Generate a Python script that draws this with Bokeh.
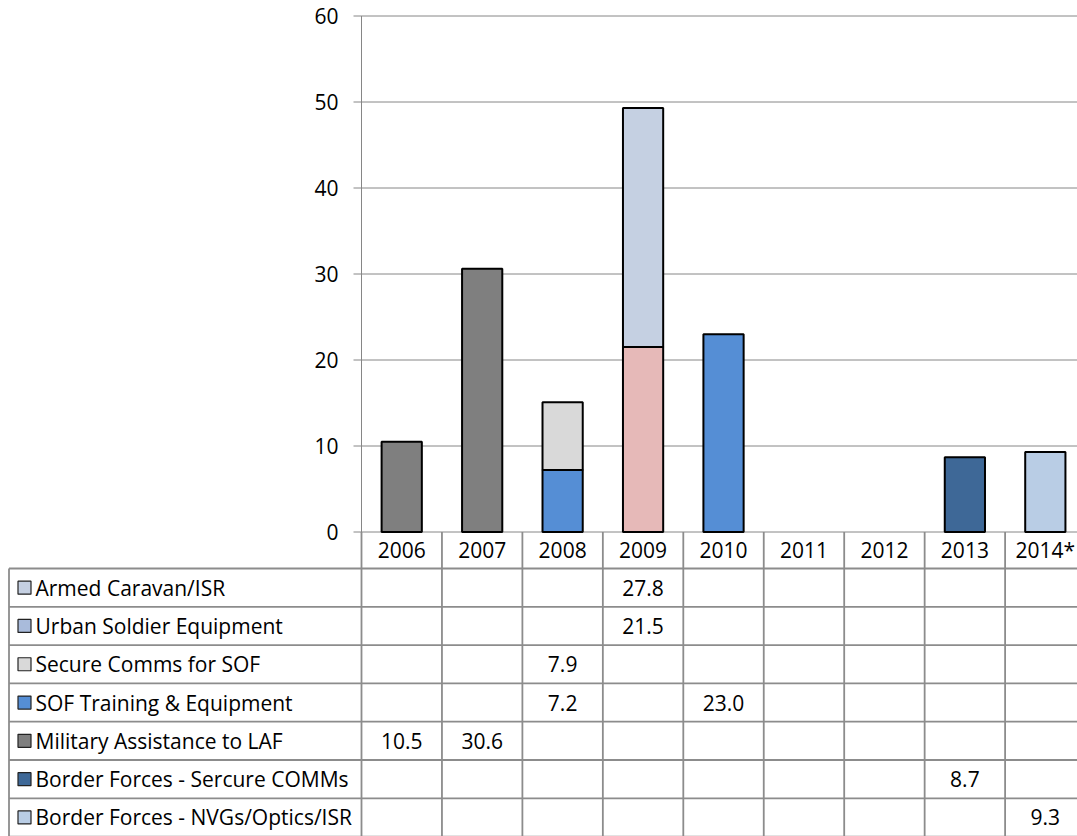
from bokeh.plotting import figure
from bokeh.models import Range1d
from bokeh.embed import file_html
from bokeh.resources import INLINE
from bokeh.core.properties import value

# ---------------- data ----------------
years = ["2006", "2007", "2008", "2009", "2010", "2011", "2012", "2013", "2014*"]
series_names = [
    "Armed Caravan/ISR",
    "Urban Soldier Equipment",
    "Secure Comms for SOF",
    "SOF Training & Equipment",
    "Military Assistance to LAF",
    "Border Forces - Sercure COMMs",
    "Border Forces - NVGs/Optics/ISR",
]
armed_caravan = [0, 0, 0, 27.8, 0, 0, 0, 0, 0]
urban_soldier = [0, 0, 0, 21.5, 0, 0, 0, 0, 0]
secure_comms = [0, 0, 7.9, 0, 0, 0, 0, 0, 0]
sof_training = [0, 0, 7.2, 0, 23.0, 0, 0, 0, 0]
military_assist = [10.5, 30.6, 0, 0, 0, 0, 0, 0, 0]
border_comms = [0, 0, 0, 0, 0, 0, 0, 8.7, 0]
border_nvg = [0, 0, 0, 0, 0, 0, 0, 0, 9.3]
series_values = [armed_caravan, urban_soldier, secure_comms, sof_training,
                 military_assist, border_comms, border_nvg]
bar_colors = ["#c5d0e2", "#e6b9b8", "#d9d9d9", "#558ed5", "#7f7f7f", "#3e6897", "#b9cde5"]
key_colors = ["#c5d0e2", "#a9bbdb", "#d9d9d9", "#558ed5", "#7f7f7f", "#3e6897", "#b9cde5"]
y_ticks = [0, 10, 20, 30, 40, 50, 60]

# ---------------- layout constants (pixels) ----------------
FONT = "Open Sans"
FS = "21px"
GRID = "#868686"
TBL = "#8c8c8c"
W, H = 1077, 836
AXIS_X = 361.0      # pixel x of the value axis / first column edge
COL = 80.45         # pixel width of a category column
ZERO_Y = 531.5      # pixel y of value 0
PPU = 8.6           # pixels per value unit
HEAD_H = 36.5
ROW_H = 38.3

def px(xp):
    return (xp - AXIS_X) / COL

def py(yp):
    return (ZERO_Y - yp) / PPU

p = figure(width=W, height=H, x_range=Range1d(px(0), px(W)), y_range=Range1d(py(H), py(0)),
           output_backend="svg", toolbar_location=None, x_axis_location=None,
           y_axis_location=None, min_border=0)
p.outline_line_color = None
p.grid.visible = False

ncat = len(years)
xmax = ncat  # right end of the category area

# ---- value axis: gridlines, ticks, axis line, labels ----
p.segment(x0=[px(AXIS_X - 8)] * len(y_ticks), x1=[xmax] * len(y_ticks), y0=y_ticks, y1=y_ticks,
          line_color=GRID, line_width=1)
p.segment(x0=[0], x1=[0], y0=[0], y1=[max(y_ticks)], line_color=GRID, line_width=1)
p.text(x=[px(AXIS_X - 23)] * len(y_ticks), y=y_ticks, text=[str(t) for t in y_ticks],
       text_font=value(FONT), text_font_size=FS, text_align="right", text_baseline="middle",
       text_color="black")

# ---- stacked bars ----
base = [0.0] * ncat
for name, vals, col in reversed(list(zip(series_names, series_values, bar_colors))):
    xs, bots, tops = [], [], []
    for i, v in enumerate(vals):
        if v:
            xs.append(i + 0.5)
            bots.append(base[i])
            tops.append(base[i] + v)
            base[i] += v
    if xs:
        p.vbar(x=xs, width=0.5, bottom=bots, top=tops, fill_color=col,
               line_color="black", line_width=2)

# ---- data table ----
n_rows = len(series_names)
head_bottom = ZERO_Y + HEAD_H
row_edges = [head_bottom + j * ROW_H for j in range(n_rows + 1)]
x0s, y0s, x1s, y1s = [], [], [], []
for k in range(ncat + 1):
    x0s.append(k); x1s.append(k); y0s.append(0); y1s.append(py(H))
x0s.append(px(8.5)); x1s.append(px(8.5)); y0s.append(py(head_bottom)); y1s.append(py(H))
for e in row_edges:
    x0s.append(px(8.5)); x1s.append(xmax); y0s.append(py(e)); y1s.append(py(e))
p.segment(x0=x0s, y0=y0s, x1=x1s, y1=y1s, line_color=TBL, line_width=1.8)

p.text(x=[i + 0.5 for i in range(ncat)], y=[py(ZERO_Y + HEAD_H / 2)] * ncat, text=years,
       text_font=value(FONT), text_font_size=FS, text_align="center",
       text_baseline="middle", text_color="black")

row_c = [py(head_bottom + (j + 0.5) * ROW_H) for j in range(n_rows)]
p.rect(x=[px(24)] * n_rows, y=row_c, width=13, height=13, width_units="screen",
       height_units="screen", fill_color=key_colors, line_color="#222222", line_width=1.2)
p.text(x=[px(35)] * n_rows, y=row_c, text=series_names, text_font=value(FONT),
       text_font_size=FS, text_align="left", text_baseline="middle", text_color="black")

cx, cy, ct = [], [], []
for j, vals in enumerate(series_values):
    for i, v in enumerate(vals):
        if v:
            cx.append(i + 0.5); cy.append(row_c[j]); ct.append(f"{v:.1f}")
p.text(x=cx, y=cy, text=ct, text_font=value(FONT), text_font_size=FS,
       text_align="center", text_baseline="middle", text_color="black")

open("out.html", "w").write(file_html(p, INLINE))
